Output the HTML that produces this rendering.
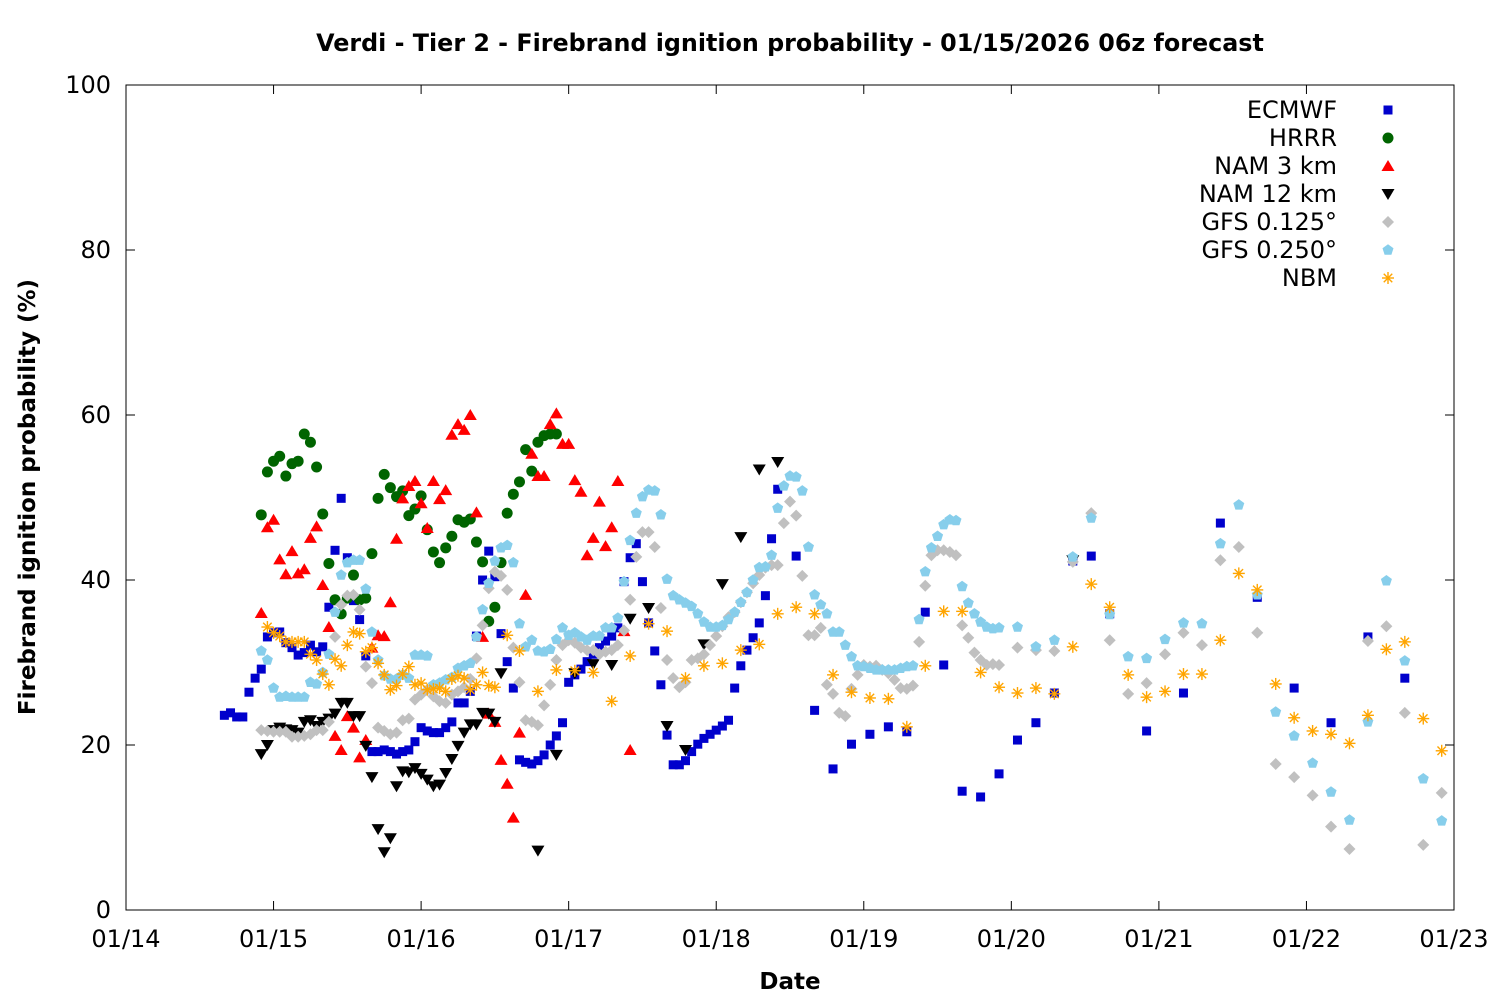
<!DOCTYPE html>
<html><head><meta charset="utf-8"><style>
html,body{margin:0;padding:0;background:#fff;}
svg{display:block;font-family:"DejaVu Sans","Liberation Sans",sans-serif;}
</style></head><body>
<svg id="chart" width="1500" height="1000" viewBox="0 0 1500 1000" xmlns="http://www.w3.org/2000/svg">
<rect width="1500" height="1000" fill="#fff"/>
<text x="790" y="51" text-anchor="middle" font-size="23.8" font-weight="bold">Verdi - Tier 2 - Firebrand ignition probability - 01/15/2026 06z forecast</text>
<text x="790" y="989" text-anchor="middle" font-size="23" font-weight="bold">Date</text>
<text transform="translate(35,497) rotate(-90)" text-anchor="middle" font-size="23" font-weight="bold">Firebrand ignition probability (%)</text>
<g id="axes"></g>
<g id="marks"></g>
<g id="legend"></g>
</svg>
<script>
// x in hours since 01/14 00z, y in percent
const xTickLabels = ["01/14","01/15","01/16","01/17","01/18","01/19","01/20","01/21","01/22","01/23"];
const yTicks = [0,20,40,60,80,100];
const seriesNames = ["ECMWF","HRRR","NAM 3 km","NAM 12 km","GFS 0.125°","GFS 0.250°","NBM"];

function hourRange(a,b,s){const r=[];for(let h=a;h<=b;h+=s)r.push(h);return r;}

const ecmwfHours = hourRange(16,106,1).concat(hourRange(109,160,3)).concat([166,172,178,184,190,196,202,208]);
const ecmwfValues = [23.6,23.9,23.4,23.4,26.4,28.1,
29.2,33.1,33.6,33.7,32.4,31.8,30.9,31.2,32.1,31.3,31.9,36.7,
43.6,49.9,42.7,37.5,35.2,30.8,19.2,19.2,19.4,19.2,18.9,19.2,19.4,20.4,22.1,21.7,21.5,21.5,22.1,22.8,25.1,25.1,26.5,33.2,40,43.5,40.4,33.5,
30.1,26.9,18.2,17.9,17.7,18.1,18.8,20,21.1,22.7,27.6,28.5,29.2,30.1,31,31.8,32.6,33.2,34.2,39.8,42.7,
44.4,39.8,
34.8,31.4,27.3,21.2,17.6,17.6,18.1,19.2,20.1,20.8,21.3,21.8,22.3,23.0,26.9,29.6,31.5,33.0,34.8,38.1,45.0,51.0,
42.9,24.2,17.1,20.1,21.3,22.2,21.6,36.1,29.7,14.4,13.7,16.5,20.6,22.7,26.3,42.3,42.9,35.9,
21.7,26.3,46.9,37.9,26.9,22.7,33.1,28.1];

const hrrrHours = hourRange(22,70,1);
const hrrrValues = [47.9,53.1,54.4,55,52.6,54.1,54.4,57.7,56.7,53.7,48,42,
37.6,35.9,37.8,40.6,37.6,37.8,43.2,49.9,52.8,51.2,50.1,50.8,47.8,48.6,50.2,46.1,43.4,42.1,43.9,45.3,47.3,47,47.4,44.6,42.2,35,36.7,42.1,
48.1,50.4,51.9,55.8,53.2,56.7,57.5,57.7,57.7];

const nam3Hours = hourRange(22,82,1);
const nam3Values = [36,46.4,47.3,42.5,40.7,43.5,40.8,41.3,45.1,46.5,39.4,34.3,
21.1,19.4,23.5,22.1,18.5,20.6,31.8,33.3,33.2,37.3,45,49.9,51.4,52,49.3,46.3,52,49.8,50.9,57.6,58.9,58.2,60,48.2,33.1,23.8,22.8,18.2,
15.3,11.2,21.5,38.2,55.3,52.6,52.6,58.9,60.2,56.5,56.5,52.1,50.7,43,45.1,49.5,44.1,46.4,52,33.8,19.4];

const nam12Hours = hourRange(22,61,1).concat(hourRange(67,106,3)).concat([154]);
const nam12Values = [18.9,20,21.8,22.1,21.9,21.8,21.5,22.8,23,22.3,22.8,23.2,
23.8,25.1,25.1,23.5,23.5,19.9,16.1,9.8,7,8.7,15,16.8,16.7,17.2,16.5,15.8,15,15.2,16.6,18.3,19.9,21.5,22.5,22.5,23.9,23.8,22.8,28.7,
7.2,18.8,28.7,29.8,29.7,35.3,36.6,22.3,19.4,32.2,39.5,45.2,53.4,54.3,
42.4];

const gfsHours = hourRange(22,142,1).concat(hourRange(145,214,3));
const gfs125Values = [21.8,21.7,21.6,21.6,21.6,21,21,21.1,21.3,21.8,21.8,22.8,
33.1,37,38.1,38.2,36.4,29.5,27.5,22.1,21.7,21.3,21.5,23,23.2,25.5,26.1,26.7,25.9,25.3,25.1,26.1,26.5,27,28,30.5,34.5,39,41,40.5,
38.8,31.8,27.6,23,22.8,22.4,24.8,27.3,30.3,32.1,32.7,32.4,31.8,31.5,31.5,31,31.3,31.5,32.1,33.9,37.6,
42.8,45.8,
45.8,44,36.6,30.3,28.1,27,27.6,30.3,30.5,31,32.1,33.2,34.4,35.5,36.1,37.3,38.5,39.6,40.6,41.5,41.8,41.8,
46.9,49.5,47.8,40.5,33.3,33.3,34.2,27.3,26.2,23.9,23.5,26.8,28.5,29.7,29.5,29.6,29.1,28.7,27.9,26.9,26.8,27.2,
32.5,39.3,43,43.6,43.6,43.4,43,34.5,33,31.2,30.3,29.7,29.8,29.7,
31.8,31.5,31.4,42.2,48.1,32.7,26.2,27.5,31,33.6,32.1,42.4,44,33.6,17.7,16.1,13.9,10.1,7.4,32.6,34.4,23.9,7.9,14.2];
const gfs250Values = [31.4,30.3,26.9,25.8,25.9,25.8,25.8,25.8,27.6,27.4,28.8,31,
36.1,40.6,42.1,42.4,42.4,38.9,33.7,30.3,28.4,28,28,28.5,28.1,30.9,30.9,30.8,27.3,27.5,27.9,28.2,29.3,29.6,29.9,33.1,36.4,39.6,42.3,43.9,
44.2,42.1,34.7,31.9,32.7,31.4,31.3,31.6,32.8,34.2,33.3,33.6,33.1,32.7,33.2,33.2,34.2,34.2,35.4,39.8,44.8,
48.1,50.1,
50.9,50.8,47.9,40.1,38.1,37.6,37.2,36.8,35.9,34.9,34.3,34.3,34.5,35.2,36.1,37.3,38.5,40,41.5,41.6,43,48.7,
51.4,52.6,52.5,50.8,44,38.2,37,35.9,33.7,33.7,32.1,30.7,29.6,29.5,29.3,29.1,29.1,29.1,29.1,29.3,29.5,29.6,
35.2,41,43.9,45.3,46.7,47.3,47.2,39.2,37.2,35.9,34.9,34.3,34.1,34.2,
34.3,31.9,32.7,42.8,47.5,35.8,30.7,30.5,32.8,34.8,34.7,44.4,49.1,38.2,24,21.1,17.8,14.3,10.9,22.8,39.9,30.2,15.9,10.8];

const nbmHours = hourRange(23,60,1).concat([62,64]).concat(hourRange(67,214,3));
const nbmValues = [34.3,33.6,33.2,32.5,32.5,32.5,32.5,31,30.3,28.6,27.3,
30.4,29.6,32.1,33.7,33.5,31.3,31.8,29.9,28.5,26.7,27.2,28.6,29.5,27.3,27.5,26.7,26.8,26.9,26.5,28,28.4,28.1,26.7,27.3,28.8,27.2,27,
33.3,31.4,
26.5,29.1,29,28.8,25.3,30.8,34.7,33.8,28.1,29.6,29.9,31.5,32.2,35.9,36.7,35.9,28.5,26.4,25.7,25.6,22.2,29.6,36.2,36.2,28.8,27,26.3,26.9,26.2,31.9,39.5,36.7,28.5,25.8,26.5,28.6,28.6,32.7,40.8,38.8,27.4,23.3,21.7,21.3,20.2,23.6,31.6,32.5,23.2,19.3];

const NS="http://www.w3.org/2000/svg";
const L=126,R=1454,T=85,B=910;
const xScale=h=>L+(R-L)*h/216;
const yScale=v=>B-(B-T)*v/100;
function mk(tag,attrs,parent){const e=document.createElementNS(NS,tag);for(const k in attrs)e.setAttribute(k,attrs[k]);parent.appendChild(e);return e;}

const axes=document.getElementById('axes');
mk('rect',{x:L,y:T,width:R-L,height:B-T,fill:'none',stroke:'#000','stroke-width':1},axes);
xTickLabels.forEach((lab,i)=>{
  const x=xScale(i*24);
  const t1=mk('line',{x1:x,y1:B,x2:x,y2:B-9,stroke:'#000'},axes);
  
  
  mk('line',{x1:x,y1:T,x2:x,y2:T+9,stroke:'#000'},axes);
  const t=mk('text',{x:x,y:947,'text-anchor':'middle','font-size':24},axes);
  
  
  t.textContent=lab;
});
yTicks.forEach(v=>{
  const y=yScale(v);
  const t1=mk('line',{x1:L,y1:y,x2:L+9,y2:y,stroke:'#000'},axes);
  
  
  mk('line',{x1:R,y1:y,x2:R-9,y2:y,stroke:'#000'},axes);
  const t=mk('text',{x:111,y:y+8,'text-anchor':'end','font-size':24},axes);
  
  
  t.textContent=v;
});

function marker(kind,cx,cy,parent){
  let e;
  if(kind==='square') e=mk('rect',{x:cx-4.5,y:cy-4.5,width:9,height:9,fill:'#0000cc'},parent);
  else if(kind==='circle') e=mk('circle',{cx:cx,cy:cy,r:5.5,fill:'#006400'},parent);
  else if(kind==='up') e=mk('polygon',{points:`${cx},${cy-6} ${cx+6.5},${cy+5} ${cx-6.5},${cy+5}`,fill:'#ff0000'},parent);
  else if(kind==='down') e=mk('polygon',{points:`${cx},${cy+6} ${cx+6.5},${cy-5} ${cx-6.5},${cy-5}`,fill:'#000'},parent);
  else if(kind==='diamond') e=mk('polygon',{points:`${cx},${cy-6} ${cx+6},${cy} ${cx},${cy+6} ${cx-6},${cy}`,fill:'#c0c0c0'},parent);
  else if(kind==='pent'){let p=[];for(let i=0;i<5;i++){const a=-Math.PI/2+i*2*Math.PI/5;p.push((cx+5.8*Math.cos(a)).toFixed(1)+','+(cy+5.8*Math.sin(a)).toFixed(1));}
    e=mk('polygon',{points:p.join(' '),fill:'#87ceeb'},parent);}
  else { e=mk('g',{stroke:'#ffa500','stroke-width':1.4},parent);
    for(let i=0;i<4;i++){const a=i*Math.PI/4;mk('line',{x1:cx-6*Math.cos(a),y1:cy-6*Math.sin(a),x2:cx+6*Math.cos(a),y2:cy+6*Math.sin(a)},e);} }
  return e;
}

const marks=document.getElementById('marks');
const series=[
 {name:'ecmwf',kind:'square',h:ecmwfHours,v:ecmwfValues},
 {name:'hrrr',kind:'circle',h:hrrrHours,v:hrrrValues},
 {name:'nam-3km',kind:'up',h:nam3Hours,v:nam3Values},
 {name:'nam-12km',kind:'down',h:nam12Hours,v:nam12Values},
 {name:'gfs-0125',kind:'diamond',h:gfsHours,v:gfs125Values},
 {name:'gfs-0250',kind:'pent',h:gfsHours,v:gfs250Values},
 {name:'nbm',kind:'star',h:nbmHours,v:nbmValues}
];
series.forEach(s=>{
  const g=mk('g',{},marks);
  
  
  const n=Math.min(s.h.length,s.v.length);
  for(let i=0;i<n;i++){
    const e=marker(s.kind,xScale(s.h[i]),yScale(s.v[i]),g);
    
    
  }
});

const legend=document.getElementById('legend');
series.forEach((s,i)=>{
  const y=110+i*28;
  const t=mk('text',{x:1337,y:y+8,'text-anchor':'end','font-size':24},legend);
  
  
  t.textContent=seriesNames[i];
  const m=marker(s.kind,1388,y,legend);
  
  
});
</script>
</body></html>
